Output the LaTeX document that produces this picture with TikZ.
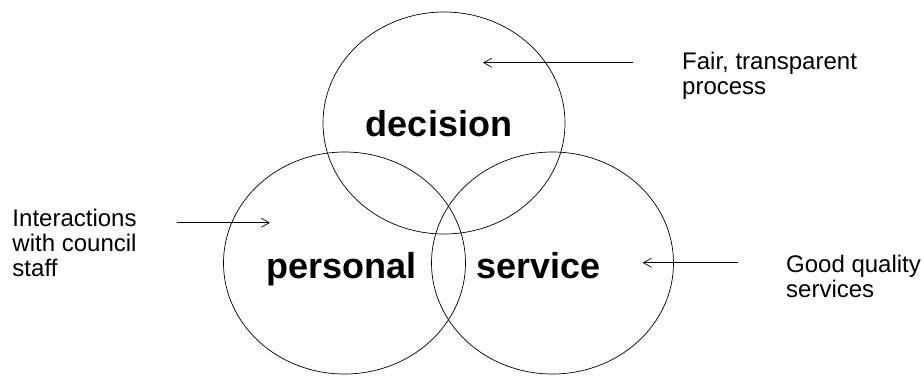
\documentclass[tikz,border=0pt]{standalone}
\usepackage{fontspec}
\setmainfont{Liberation Sans}
\usetikzlibrary{shapes.geometric,arrows.meta}
\begin{document}
\begin{tikzpicture}[x=1pt,y=-1pt,
  ring/.style={draw,ellipse,line width=0.7pt,inner sep=0pt,minimum width=242pt,minimum height=222pt},
  big/.style={inner sep=0pt,anchor=base,font=\fontsize{36}{40}\selectfont\bfseries},
  note/.style={inner sep=0pt,anchor=base west,align=left,font=\fontsize{24}{25}\selectfont},
  pointer/.style={line width=0.7pt,-{Straight Barb[length=8pt,width=9pt]}}]
\useasboundingbox (0,0) rectangle (924,376);
\node[ring] (top) at (444,123) {};
\node[ring] (left) at (344.5,263) {};
\node[ring] (right) at (552.5,263) {};
\node[big] (dec) at (439,136.7) {decision};
\node[big] (per) at (341.5,278) {personal};
\node[big] (ser) at (538.5,278) {service};
\node[note] (fair) at (682,94) {Fair, transparent\\process};
\node[note] (inter) at (12.3,276) {Interactions\\with council\\staff};
\node[note] (good) at (786,297) {Good quality\\services};
\coordinate (a1) at (633,62.7);
\coordinate (a2) at (483,62.7);
\coordinate (b1) at (176.7,222.7);
\coordinate (b2) at (270,222.7);
\coordinate (c1) at (737.7,262.7);
\coordinate (c2) at (642.7,262.7);
\draw[pointer] (a1) -- (a2);
\draw[pointer] (b1) -- (b2);
\draw[pointer] (c1) -- (c2);
\end{tikzpicture}
\end{document}
